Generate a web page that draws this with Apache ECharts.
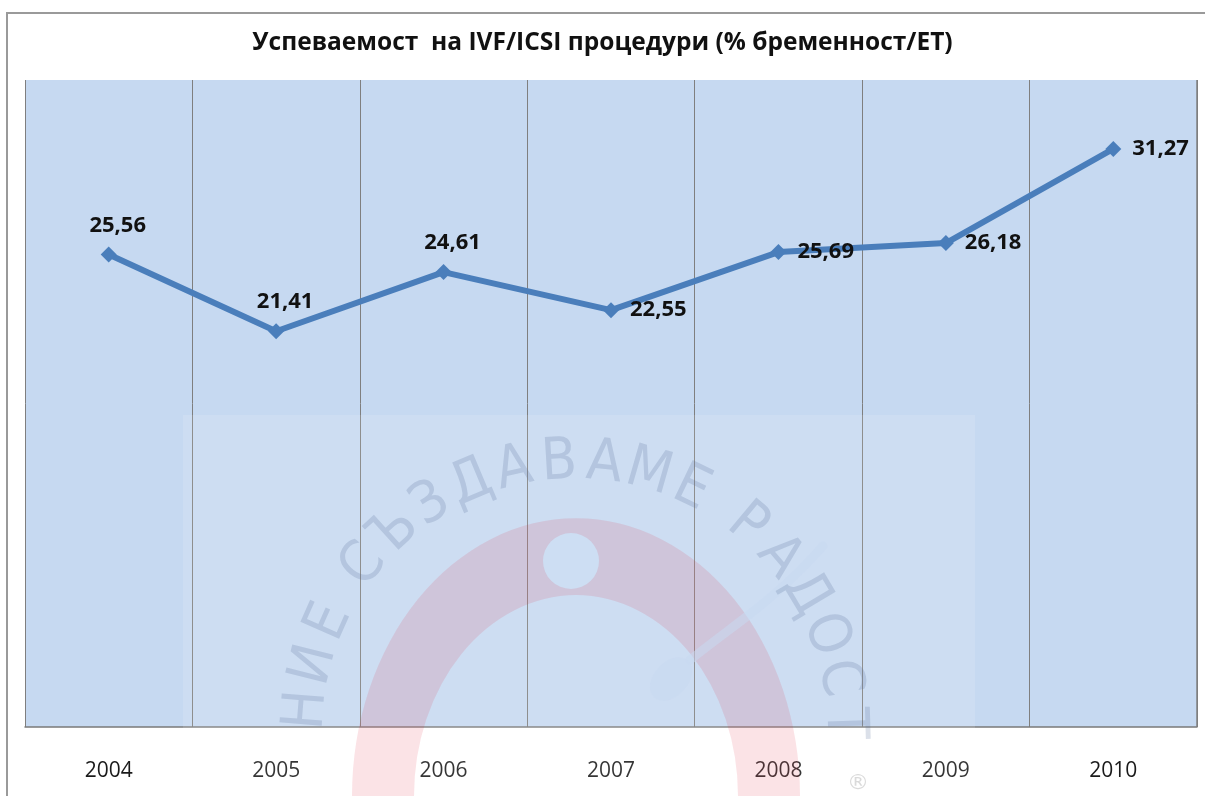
<!DOCTYPE html>
<html>
<head>
<meta charset="utf-8">
<script src="https://cdn.jsdelivr.net/npm/echarts@6/dist/echarts.min.js"></script>
<style>
html, body { margin: 0; padding: 0; background: #fff; }
#chart { width: 1205px; height: 796px; }
</style>
</head>
<body>
<div id="chart"></div>
<script>
// data
const years = ['2004', '2005', '2006', '2007', '2008', '2009', '2010']
const rates = [25.56, 21.41, 24.61, 22.55, 25.69, 26.18, 31.27]
const titleText = 'Успеваемост  на IVF/ICSI процедури (% бременност/ЕТ)'
const stampText = 'НИЕ СЪЗДАВАМЕ РАДОСТ'

// where each value label sits
const labelSide = ['top', 'top', 'top', 'right', 'right', 'right', 'right']

const fmt = v => v.toFixed(2).replace('.', ',')

// faint logo in the background, letters laid on an arc
function stampLetters() {
  const cx = 575, cy = 731, r = 268
  let ang = -85.5
  let list = []
  for (let i = 0; i < stampText.length; i++) {
    const ch = stampText[i]
    if (ch === ' ') { ang += 4.5; continue }
    const a = ang * Math.PI / 180
    list.push({
      type: 'text',
      x: cx + r * Math.sin(a),
      y: cy - r * Math.cos(a),
      rotation: -a,
      z: 2,
      silent: true,
      style: {
        text: ch,
        fill: 'rgba(90,115,155,0.22)',
        font: '58px "DejaVu Sans Condensed", "DejaVu Sans"',
        align: 'center',
        verticalAlign: 'middle'
      }
    })
    ang += 9.7
  }
  return list
}

let option = {
  animation: false,
  backgroundColor: '#fff',
  title: {
    text: titleText,
    left: 'center',
    top: 26,
    textStyle: {
      fontFamily: 'Open Sans',
      fontWeight: 'bold',
      fontSize: 24.5,
      color: '#111'
    }
  },
  grid: {
    left: 25,
    right: 8,
    top: 80,
    bottom: 69,
    show: true,
    backgroundColor: '#C6D9F1',
    borderWidth: 0
  },
  xAxis: {
    type: 'category',
    data: years,
    boundaryGap: true,
    axisLine: { show: true, lineStyle: { color: '#7a7a7a', width: 1.5 } },
    axisTick: { show: false },
    splitLine: { show: true, lineStyle: { color: '#7f7f7f', width: 1 } },
    axisLabel: {
      margin: 34,
      fontFamily: 'Open Sans',
      fontSize: 21,
      color: '#1a1a1a'
    }
  },
  yAxis: {
    type: 'value',
    min: 0,
    max: 35,
    show: false,
    splitLine: { show: false }
  },
  graphic: [
    {
      type: 'rect',
      shape: { x: 7, y: 13, width: 1230, height: 820 },
      silent: true,
      z: 10,
      style: { fill: 'none', stroke: '#9a9a9a', lineWidth: 2 }
    },
    {
      type: 'line',
      shape: { x1: 1197, y1: 80, x2: 1197, y2: 727 },
      silent: true,
      z: 1,
      style: { stroke: '#7f7f7f', lineWidth: 1.5 }
    },
    {
      type: 'rect',
      shape: { x: 183, y: 415, width: 792, height: 400 },
      silent: true,
      z: 1,
      style: { fill: 'rgba(255,255,255,0.12)' }
    },
    {
      type: 'ring',
      shape: { cx: 576, cy: 796, r: 224, r0: 162 },
      scaleY: 1.24,
      originX: 576,
      originY: 796,
      silent: true,
      z: 1,
      style: { fill: 'rgba(225,40,60,0.13)' }
    },
    {
      type: 'circle',
      shape: { cx: 571, cy: 561, r: 28 },
      silent: true,
      z: 1,
      style: { fill: '#CDDEF3' }
    },
    {
      type: 'bezierCurve',
      shape: { x1: 690, y1: 660, cpx1: 740, cpy1: 620, cpx2: 775, cpy2: 600, x2: 823, y2: 546 },
      silent: true,
      z: 2,
      style: { stroke: 'rgba(200,216,240,0.55)', lineWidth: 9, fill: 'none', lineCap: 'round' }
    },
    {
      type: 'circle',
      shape: { cx: 671, cy: 679, r: 20 },
      scaleX: 0.85,
      scaleY: 1.25,
      rotation: -0.75,
      originX: 671,
      originY: 679,
      silent: true,
      z: 2,
      style: { fill: 'rgba(200,216,240,0.55)' }
    },
    {
      type: 'text',
      x: 858,
      y: 783,
      silent: true,
      z: 1,
      style: {
        text: '®',
        fill: 'rgba(150,150,150,0.35)',
        font: '22px "DejaVu Sans"',
        align: 'center',
        verticalAlign: 'middle'
      }
    }
  ].concat(stampLetters()),
  series: [
    {
      type: 'line',
      z: 5,
      data: rates.map((v, i) => ({
        value: v,
        label: labelSide[i] === 'top'
          ? { position: 'top', offset: [9, -5] }
          : { position: 'right', offset: [6, 0] }
      })),
      symbol: 'diamond',
      symbolSize: 16,
      lineStyle: { color: '#4A7EBB', width: 6 },
      itemStyle: { color: '#4A7EBB' },
      label: {
        show: true,
        formatter: p => fmt(p.value),
        fontFamily: 'Open Sans',
        fontWeight: 'bold',
        fontSize: 22,
        color: '#111'
      }
    }
  ]
}

let myChart = echarts.init(document.getElementById('chart'))
myChart.setOption(option)
</script>
</body>
</html>
